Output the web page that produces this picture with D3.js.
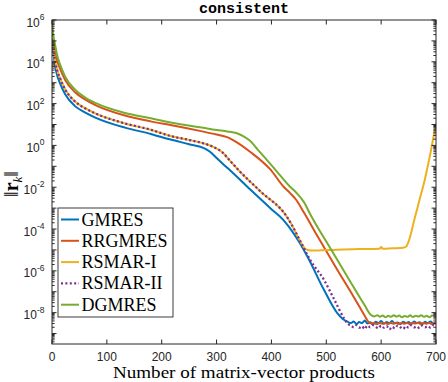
<!DOCTYPE html>
<html><head><meta charset="utf-8">
<script src="https://cdn.jsdelivr.net/npm/d3@7"></script>
<style>body{margin:0;background:#fff;} svg{display:block;}</style>
</head><body><svg id="c" width="448" height="382"></svg>
<script>
// ---- data (x = matrix-vector products, value = log10 of residual norm) ----
const title = "consistent";
const xLabel = "Number of matrix-vector products";
const xTicks = [0,100,200,300,400,500,600,700];
const yTickExps = [6,4,2,0,-2,-4,-6,-8];
const seriesNames = ["GMRES","RRGMRES","RSMAR-I","RSMAR-II","DGMRES"];
const seriesColors = ["#0072BD","#D95319","#EDB120","#7E2F8E","#77AC30"];

const gmres = [[0,5.4],[2,4.6],[5,3.9],[10,3.3],[15,2.95],[24,2.45],[42,1.88],[60,1.58],[80,1.32],[133,0.85],[180,0.55],[216,0.28],[250,0.06],[276,-0.12],[288,-0.3],[300,-0.6],[313,-0.92],[325,-1.2],[361,-2.1],[400,-3.05],[422,-3.57],[432,-3.9],[450,-4.6],[466,-5.34],[496,-6.92],[520,-8.02],[530,-8.3],[538,-8.42],
 [545,-8.5],[550,-8.42],[555,-8.55],[560,-8.45],[565,-8.5],[570,-8.38],[575,-8.52],[580,-8.46],[585,-8.55],[590,-8.43],[595,-8.5],[600,-8.4],[605,-8.53],[610,-8.45],[615,-8.5],[620,-8.4],[625,-8.52],[630,-8.47],[635,-8.55],[640,-8.43],[645,-8.5],[650,-8.45],[655,-8.53],[660,-8.42],[665,-8.5],[670,-8.46],[675,-8.55],[680,-8.44],[685,-8.5],[690,-8.42],[695,-8.52],[700,-8.47]];

const rrgmres = [[0,5.6],[2,5.0],[5,4.55],[10,4.0],[15,3.65],[24,3.13],[42,2.54],[60,2.2],[80,1.92],[133,1.43],[180,1.15],[216,0.98],[276,0.66],[300,0.52],[319,0.4],[337,0.15],[361,-0.3],[398,-1.15],[423,-2.0],[434,-2.28],[445,-2.6],[459,-3.2],[483,-4.3],[520,-5.95],[550,-7.25],[570,-8.15],[577,-8.45],
 [582,-8.52],[587,-8.5],[592,-8.55],[597,-8.5],[602,-8.53],[607,-8.49],[612,-8.55],[617,-8.5],[622,-8.53],[627,-8.48],[632,-8.54],[637,-8.5],[642,-8.53],[647,-8.49],[652,-8.55],[657,-8.5],[662,-8.52],[667,-8.48],[672,-8.54],[677,-8.5],[682,-8.53],[687,-8.49],[692,-8.54],[697,-8.5],[700,-8.52]];

const rsmar1 = [[0,5.5],[2,4.8],[5,4.15],[10,3.55],[15,3.2],[24,2.68],[42,2.1],[60,1.78],[80,1.52],[133,1.05],[180,0.75],[216,0.45],[250,0.26],[276,0.1],[295,-0.08],[310,-0.32],[325,-0.75],[340,-1.18],[380,-2.2],[428,-3.41],[436,-3.75],[455,-4.7],
 [460,-4.9],[466,-5.0],[475,-5.03],[490,-5.02],[510,-5.0],[530,-4.98],[560,-4.96],[597,-4.94],[600,-4.86],[603,-4.94],[620,-4.92],[640,-4.9],[645,-4.85],[650,-4.6],[655,-4.15],[660,-3.6],[666,-3.0],[673,-2.3],[679,-1.7],[684,-1.1],[690,-0.35],[695,0.35],[700,1.05]];

const rsmar2 = [[0,5.5],[2,4.8],[5,4.15],[10,3.55],[15,3.2],[24,2.68],[42,2.1],[60,1.78],[80,1.52],[133,1.05],[180,0.75],[216,0.45],[250,0.26],[276,0.1],[295,-0.08],[310,-0.32],[325,-0.75],[340,-1.18],[380,-2.2],[428,-3.41],[436,-3.75],[455,-4.7],
 [470,-5.45],[496,-6.44],[515,-7.4],[533,-8.3],[540,-8.55],
 [545,-8.62],[550,-8.7],[555,-8.6],[560,-8.72],[565,-8.65],[570,-8.78],[575,-8.62],[580,-8.7],[585,-8.6],[590,-8.68],[595,-8.75],[600,-8.62],[605,-8.72],[610,-8.65],[615,-8.8],[620,-8.68],[625,-8.75],[630,-8.62],[635,-8.7],[640,-8.78],[645,-8.65],[650,-8.72],[655,-8.6],[660,-8.7],[665,-8.66],[670,-8.74],[675,-8.62],[680,-8.7],[685,-8.65],[690,-8.72],[695,-8.6],[700,-8.68]];

const dgmres = [[0,5.85],[2,5.35],[5,4.9],[10,4.25],[15,3.85],[24,3.29],[42,2.67],[60,2.3],[80,2.02],[133,1.55],[180,1.3],[216,1.1],[276,0.84],[300,0.74],[320,0.67],[337,0.58],[350,0.42],[361,0.22],[375,-0.2],[392,-0.7],[410,-1.25],[434,-1.98],[445,-2.25],[459,-2.7],[472,-3.35],[485,-3.95],[500,-4.6],[540,-6.35],[570,-7.65],[581,-8.1],[588,-8.18],
 [593,-8.12],[598,-8.2],[603,-8.14],[608,-8.22],[613,-8.15],[618,-8.2],[623,-8.12],[628,-8.19],[633,-8.14],[638,-8.22],[643,-8.16],[648,-8.2],[653,-8.13],[658,-8.21],[663,-8.15],[668,-8.19],[673,-8.12],[678,-8.2],[683,-8.15],[688,-8.22],[693,-8.14],[700,-8.18]];

const seriesData = [gmres, rrgmres, rsmar1, rsmar2, dgmres];

// ---- drawing ----
const svg = d3.select("#c");
const L = 52, R = 436, T = 20, B = 344;
const axisColor = "#262626";
const x = d3.scaleLinear().domain([0,700]).range([L,R]);
const y = d3.scaleLog().domain([Math.pow(10,-9.5),1e6]).range([B,T]);

svg.append("rect").attr("x",0).attr("y",0).attr("width",448).attr("height",382).attr("fill","#fff");

svg.append("defs").append("clipPath").attr("id","clip")
  .append("rect").attr("x",L).attr("y",T).attr("width",R-L).attr("height",B-T);

const line = d3.line()
  .x(d => x(d[0]))
  .y(d => y(Math.pow(10,d[1])))
  .curve(d3.curveMonotoneX);

const plot = svg.append("g").attr("clip-path","url(#clip)");
seriesData.forEach((s,i) => {
  const p = plot.append("path").attr("d", line(s))
    .attr("fill","none").attr("stroke", seriesColors[i])
    .attr("stroke-width", i===3 ? 2.3 : 2)
    .attr("stroke-linejoin","round");
  if (i===3) p.attr("stroke-dasharray","2,2.4");
});

// axes box
const ax = svg.append("g").attr("stroke",axisColor).attr("stroke-width",1).attr("fill","none");
ax.append("rect").attr("x",L).attr("y",T).attr("width",R-L).attr("height",B-T);

// x ticks (inward, bottom and top)
xTicks.forEach(t => {
  const px = x(t);
  ax.append("line").attr("x1",px).attr("x2",px).attr("y1",B).attr("y2",B-4.5);
  ax.append("line").attr("x1",px).attr("x2",px).attr("y1",T).attr("y2",T+4.5);
});

// y ticks: decades + minor
const [yMin,yMax] = y.domain();
for (let e = -10; e <= 6; e++) {
  for (let k = 1; k <= 9; k++) {
    const v = k*Math.pow(10,e);
    if (v < yMin*0.999 || v > yMax*1.001) continue;
    const py = y(v);
    const len = k===1 ? 4.5 : 2.6;
    ax.append("line").attr("x1",L).attr("x2",L+len).attr("y1",py).attr("y2",py);
    ax.append("line").attr("x1",R).attr("x2",R-len).attr("y1",py).attr("y2",py);
  }
}

// x tick labels
const txt = svg.append("g").attr("fill",axisColor).attr("font-family","'Liberation Sans', Arial, sans-serif");
xTicks.forEach(t => {
  txt.append("text").attr("x",x(t)).attr("y",360.5).attr("text-anchor","middle")
    .attr("font-size",12).text(t);
});

// y tick labels
yTickExps.forEach(e => {
  const py = y(Math.pow(10,e));
  const t = txt.append("text").attr("x",44.5).attr("y",py+6.5).attr("text-anchor","end").attr("font-size",12);
  t.append("tspan").text("10");
  t.append("tspan").attr("dy",-6.5).attr("font-size",8.5).text(e);
});

// title
svg.append("text").attr("x",(L+R)/2).attr("y",13).attr("text-anchor","middle")
  .attr("font-family","'Liberation Mono', 'Courier New', monospace").attr("font-weight","bold")
  .attr("font-size",15).attr("fill","#000").text(title);

// x label
svg.append("text").attr("x",(L+R)/2).attr("y",377.5).attr("text-anchor","middle")
  .attr("font-family","'Liberation Serif', 'Times New Roman', serif").attr("font-size",17)
  .attr("fill","#000").attr("textLength",262).attr("lengthAdjust","spacingAndGlyphs").text(xLabel);

// y label ||r_k||
const yl = svg.append("text").attr("transform","translate(18,184) rotate(-90)")
  .attr("text-anchor","middle").attr("font-family","'Liberation Serif', 'Times New Roman', serif")
  .attr("font-size",20).attr("fill","#000");
yl.append("tspan").text("\u2016");
yl.append("tspan").attr("font-weight","bold").text("r");
yl.append("tspan").attr("font-style","italic").attr("font-size",13).attr("dy",4).text("k");
yl.append("tspan").attr("dy",-4).text("\u2016");

// legend
const lg = svg.append("g");
lg.append("rect").attr("x",58).attr("y",208).attr("width",115).attr("height",109)
  .attr("fill","#fff").attr("stroke",axisColor).attr("stroke-width",0.9);
seriesNames.forEach((n,i) => {
  const cy = 219.5 + i*21.3;
  const l = lg.append("line").attr("x1",61).attr("x2",79).attr("y1",cy).attr("y2",cy)
    .attr("stroke",seriesColors[i]).attr("stroke-width", i===3 ? 2.3 : 2);
  if (i===3) l.attr("stroke-dasharray","2,2.4");
  lg.append("text").attr("x",81.5).attr("y",cy+6).attr("font-family","'Liberation Serif', 'Times New Roman', serif")
    .attr("font-size",18).attr("fill","#000").text(n);
});
</script></body></html>
